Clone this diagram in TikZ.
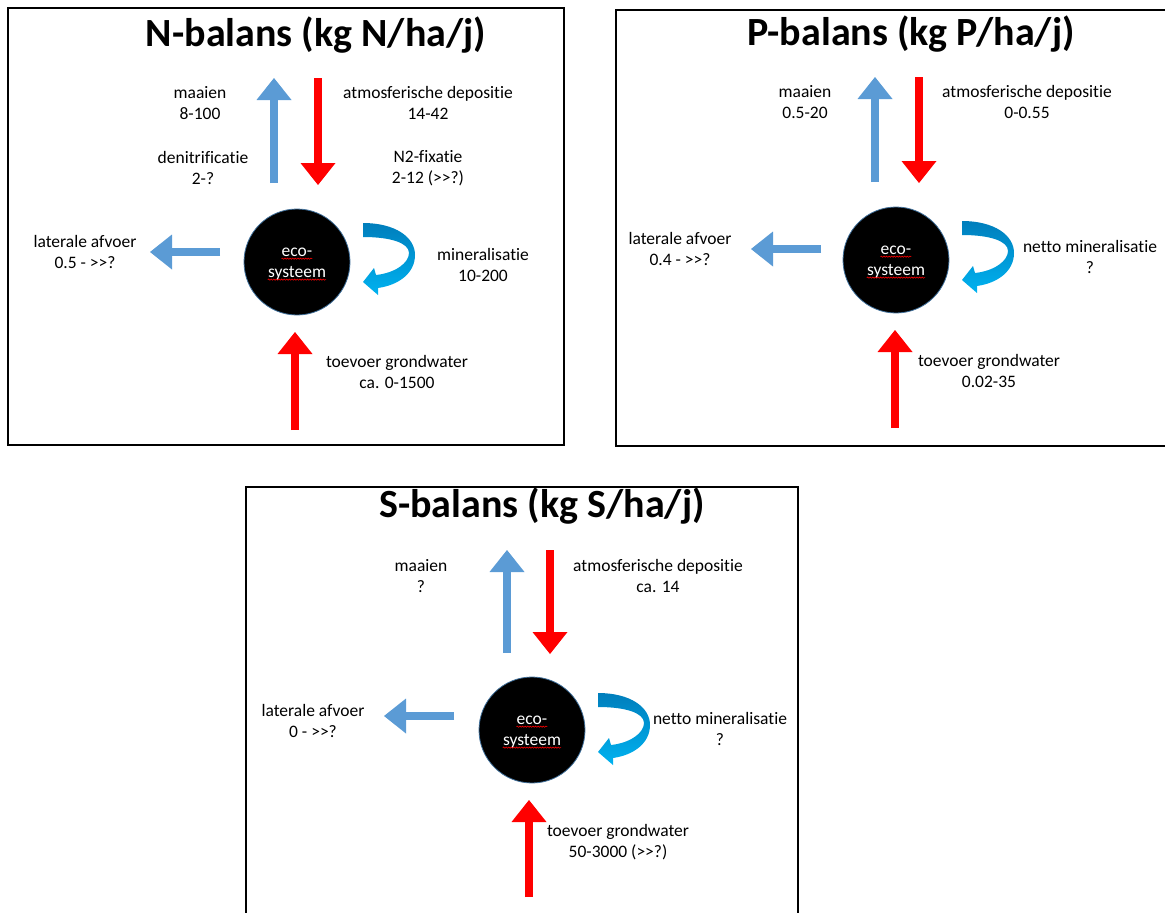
\documentclass[tikz,border=0pt]{standalone}
\usepackage{fontspec}
\setmainfont{Carlito}[Ligatures={NoCommon}]
\usetikzlibrary{arrows.meta,calc,decorations.pathmorphing}

\definecolor{outblue}{RGB}{91,155,213}
\definecolor{inred}{RGB}{255,0,0}
\definecolor{turndark}{RGB}{0,126,188}
\definecolor{turnlight}{RGB}{0,178,240}
\definecolor{rimblue}{RGB}{65,113,156}

% ">>" written with a break so that it is not merged into a guillemet
\newcommand{\gtgt}{>{}>}

\tikzset{
  panel/.style={draw=black, line width=2.2pt},
  heading/.style={font=\bfseries\fontsize{40}{44}\selectfont, inner sep=0pt},
  lbl/.style={font=\fontsize{17.5}{21.5}\selectfont, align=center, inner sep=0pt},
  eco/.style={circle, fill=black, draw=rimblue, line width=0.8pt,
              minimum size=106pt, inner sep=0pt},
  ecoword/.style={font=\fontsize{17.5}{21}\selectfont, text=white, inner sep=0pt},
  squiggle/.style={draw=red, line width=0.6pt, decorate,
                   decoration={snake, segment length=2.6pt, amplitude=0.6pt}},
  flowtip/.style={-{Triangle[width=35pt,length=22pt,line width=0pt]}},
  outflow/.style={draw=outblue, line width=7.5pt, flowtip},
  inflow/.style={draw=inred, line width=7.5pt, flowtip},
  mineralturn/.pic={
    \shade[top color=turndark, bottom color=turnlight]
      (0,0) .. controls (32,0) and (52,14) .. (52,32)
      .. controls (52,50) and (36,62) .. (15,65)
      -- (15,72) -- (0,59) -- (11,45) -- (13,52)
      .. controls (32,50) and (46,40) .. (46,30)
      .. controls (46,20) and (28,14) .. (0,14) -- cycle;
  }
}

\begin{document}
\begin{tikzpicture}[x=1pt, y=-1pt]
\useasboundingbox (0,0) rectangle (1165,913);
\clip (0,0) rectangle (1165,913);

% ---------- nitrogen ----------
\draw[panel] (8,8) rectangle (564,445);
\node[heading] (N-title) at (316,35) {N-balans (kg N/ha/j)};
\begin{scope}[shift={(297,262)}]
  \node[eco] (N-c) at (0,0) {};
  \node[ecoword] (N-w1) at (0,-10) {eco-};
  \node[ecoword] (N-w2) at (0,11) {systeem};
  \draw[squiggle] ([yshift=-2.5pt]N-w1.base west) -- ([yshift=-2.5pt]N-w1.base east);
  \draw[squiggle] ([yshift=-2.5pt]N-w2.base west) -- ([yshift=-2.5pt]N-w2.base east);

  \coordinate (N-up0) at (-23,-79);  \coordinate (N-up1) at (-23,-184);
  \coordinate (N-dn0) at (21,-184);  \coordinate (N-dn1) at (21,-77);
  \coordinate (N-lt0) at (-77,-10);  \coordinate (N-lt1) at (-147,-10);
  \coordinate (N-gw0) at (-2,168);   \coordinate (N-gw1) at (-2,70);
  \draw[outflow] (N-up0) -- (N-up1);
  \draw[inflow]  (N-dn0) -- (N-dn1);
  \draw[outflow] (N-lt0) -- (N-lt1);
  \draw[inflow]  (N-gw0) -- (N-gw1);
  \pic at (66,-39) {mineralturn};

  \node[lbl] (N-maai) at (-97,-159) {maaien\\8-100};
  \node[lbl] (N-atm)  at (131,-159) {atmosferische depositie\\14-42};
  \node[lbl] (N-den)  at (-94,-94)  {denitrificatie\\2-?};
  \node[lbl] (N-fix)  at (131,-94)  {N2-fixatie\\2-12 (\gtgt?)};
  \node[lbl] (N-lat)  at (-212,-10) {laterale afvoer\\0.5 - \gtgt?};
  \node[lbl] (N-min)  at (186,3)    {mineralisatie\\10-200};
  \node[lbl] (N-gw)   at (100,110)  {toevoer grondwater\\ca. 0-1500};
\end{scope}

% ---------- phosphorus ----------
\draw[panel] (616,10) rectangle (1180,446);
\node[heading] (P-title) at (911,34) {P-balans (kg P/ha/j)};
\begin{scope}[shift={(896,260)}]
  \node[eco] (P-c) at (0,0) {};
  \node[ecoword] (P-w1) at (0,-10) {eco-};
  \node[ecoword] (P-w2) at (0,11) {systeem};
  \draw[squiggle] ([yshift=-2.5pt]P-w1.base west) -- ([yshift=-2.5pt]P-w1.base east);
  \draw[squiggle] ([yshift=-2.5pt]P-w2.base west) -- ([yshift=-2.5pt]P-w2.base east);

  \coordinate (P-up0) at (-21,-78);  \coordinate (P-up1) at (-21,-183);
  \coordinate (P-dn0) at (23,-183);  \coordinate (P-dn1) at (23,-77);
  \coordinate (P-lt0) at (-75,-11);  \coordinate (P-lt1) at (-145,-11);
  \coordinate (P-gw0) at (-1,168);   \coordinate (P-gw1) at (-1,70);
  \draw[outflow] (P-up0) -- (P-up1);
  \draw[inflow]  (P-dn0) -- (P-dn1);
  \draw[outflow] (P-lt0) -- (P-lt1);
  \draw[inflow]  (P-gw0) -- (P-gw1);
  \pic at (66,-39) {mineralturn};

  \node[lbl] (P-maai) at (-91,-158) {maaien\\0.5-20};
  \node[lbl] (P-atm)  at (131,-158) {atmosferische depositie\\0-0.55};
  \node[lbl] (P-lat)  at (-216,-11) {laterale afvoer\\0.4 - \gtgt?};
  \node[lbl] (P-min)  at (194,-3)   {netto mineralisatie\\?};
  \node[lbl] (P-gw)   at (93,111)   {toevoer grondwater\\0.02-35};
\end{scope}

% ---------- sulphur ----------
\draw[panel] (246,487) rectangle (798,930);
\node[heading] (S-title) at (542,506) {S-balans (kg S/ha/j)};
\begin{scope}[shift={(532,730)}]
  \node[eco] (S-c) at (0,0) {};
  \node[ecoword] (S-w1) at (0,-10) {eco-};
  \node[ecoword] (S-w2) at (0,11) {systeem};
  \draw[squiggle] ([yshift=-2.5pt]S-w1.base west) -- ([yshift=-2.5pt]S-w1.base east);
  \draw[squiggle] ([yshift=-2.5pt]S-w2.base west) -- ([yshift=-2.5pt]S-w2.base east);

  \coordinate (S-up0) at (-25,-77);  \coordinate (S-up1) at (-25,-180);
  \coordinate (S-dn0) at (18,-180);  \coordinate (S-dn1) at (18,-76);
  \coordinate (S-lt0) at (-78,-14);  \coordinate (S-lt1) at (-148,-14);
  \coordinate (S-gw0) at (-3,167);   \coordinate (S-gw1) at (-3,70);
  \draw[outflow] (S-up0) -- (S-up1);
  \draw[inflow]  (S-dn0) -- (S-dn1);
  \draw[outflow] (S-lt0) -- (S-lt1);
  \draw[inflow]  (S-gw0) -- (S-gw1);
  \pic at (66,-37) {mineralturn};

  \node[lbl] (S-maai) at (-111,-154) {maaien\\?};
  \node[lbl] (S-atm)  at (126,-154)  {atmosferische depositie\\ca. 14};
  \node[lbl] (S-lat)  at (-219,-9)   {laterale afvoer\\0 - \gtgt?};
  \node[lbl] (S-min)  at (188,-1)    {netto mineralisatie\\?};
  \node[lbl] (S-gw)   at (86,112)    {toevoer grondwater\\50-3000 (\gtgt?)};
\end{scope}
\end{tikzpicture}
\end{document}
